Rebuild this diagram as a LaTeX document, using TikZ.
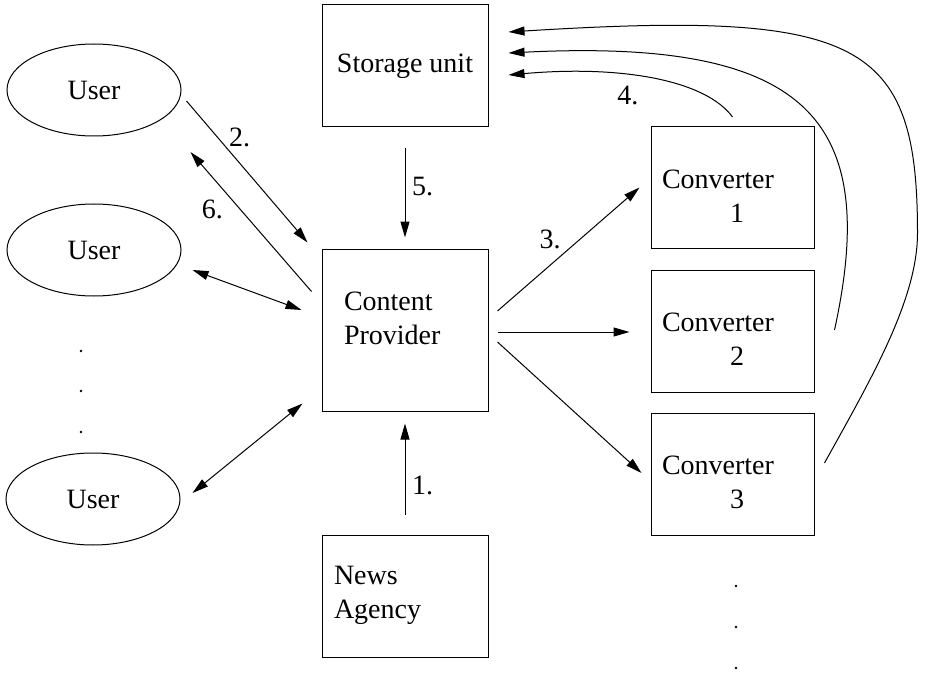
\documentclass[tikz,border=0pt]{standalone}
\usepackage{fontspec}
\setmainfont{Liberation Serif}
\usetikzlibrary{shapes.geometric,arrows.meta}

\begin{document}
\begin{tikzpicture}[x=0.5pt,y=-0.5pt,line width=0.5pt,
	every node/.style={font=\fontsize{14pt}{17pt}\selectfont},
	box/.style={draw,minimum width=83pt,minimum height=61pt,inner sep=0pt},
	conv/.style={box,minimum width=81.5pt},
	user/.style={draw,shape=ellipse,minimum width=87pt,minimum height=46pt,inner sep=0pt},
	txt/.style={inner sep=0pt,anchor=base west,align=left},
	arr/.style={-{Triangle[length=8pt,width=4.5pt]}},
	both/.style={{Triangle[length=8pt,width=4.5pt]}-{Triangle[length=8pt,width=4.5pt]}}]
	\useasboundingbox (0,0) rectangle (927,674);

	\node[user] (user1) at (94,90)  {User};
	\node[user] (user2) at (94,250) {User};
	\node[user] (user3) at (93,499) {User};

	\node[box] (store) at (405,66) {Storage unit};
	\node[box,minimum height=81pt] (provider) at (405,330) {};
	\node[txt] (provtext) at ([shift={(22,96)}]provider.north west) {Content\\Provider};
	\node[box] (news) at (405,596) {};
	\node[txt] (newstext) at ([shift={(12,84)}]news.north west) {News\\Agency};

	\foreach \i/\y in {1/187.5,2/331,3/474}{
		\node[conv] (conv\i) at (732.5,\y) {};
		\node[txt] (convtext\i) at ([shift={(11,96)}]conv\i.north west) {Converter\\\hspace*{34pt}\i};
	}

	\foreach \y in {351,391,432} \fill (81,\y) circle (0.7pt);
	\foreach \y in {586,627,668} \fill (736,\y) circle (0.7pt);

	\path[arr] ([shift={(5,11)}]user1.east) edge node[right=2pt,pos=.26]{2.} ([shift={(-14,-6)}]provider.north west);
	\path[arr] ([shift={(-10,43)}]provider.north west) edge node[left=5pt,pos=.59]{6.} ([shift={(9,62)}]user1.east);
	\path[both] ([shift={(11,20)}]user2.east) edge ([shift={(-20,-20)}]provider.west);
	\path[both] ([shift={(12,-6)}]user3.east) edge ([shift={(-19,-8)}]provider.south west);

	\path[arr] ([shift={(0,-20)}]news.north) edge node[right,pos=.32]{1.} ([shift={(0,12)}]provider.south);
	\path[arr] ([shift={(0,21)}]store.south) edge node[right,pos=.43]{5.} ([shift={(0,-11)}]provider.north);

	\path[arr] ([shift={(9,-19)}]provider.east) edge node[left=6pt,pos=.58]{3.} ([shift={(-11,0)}]conv1.west);
	\path[arr] ([shift={(9,2)}]provider.east) edge ([shift={(-21,1)}]conv2.west);
	\path[arr] ([shift={(9,12)}]provider.east) edge ([shift={(-9,-1)}]conv3.west);

	\draw[arr] ([shift={(0,-9)}]conv1.north) .. controls +(-27,-37) and +(112,-10) .. ([shift={(20,9)}]store.east) node[below=2pt,pos=.6]{4.};
	\draw[arr] ([shift={(20,-1)}]conv2.east) .. controls +(46,-210) and +(300,-15) .. ([shift={(20,-13)}]store.east);
	\draw[arr] ([shift={(10,-11)}]conv3.east) .. controls +(46,-83) and +(0,67) .. ++(93,-230)
		.. controls +(0,-193) and +(352,-22) .. ([shift={(20,-34)}]store.east);
\end{tikzpicture}
\end{document}
